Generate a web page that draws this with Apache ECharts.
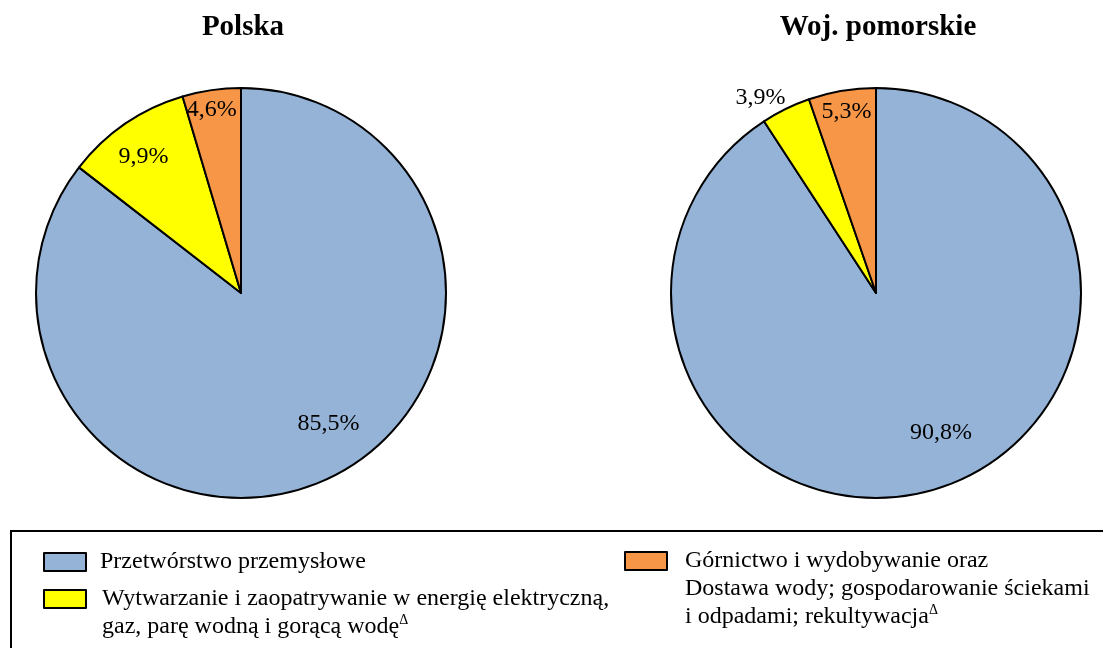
<!DOCTYPE html>
<html>
<head>
<meta charset="utf-8">
<script src="https://cdn.jsdelivr.net/npm/echarts@6/dist/echarts.min.js"></script>
<style>
  html, body { margin: 0; padding: 0; background: #fff; }
  #chart { width: 1103px; height: 648px; }
</style>
</head>
<body>
<div id="chart"></div>
<script>
// Sectors of the economy
const categories = [
  'Przetwórstwo przemysłowe',
  'Wytwarzanie i zaopatrywanie w energię elektryczną, gaz, parę wodną i gorącą wodę',
  'Górnictwo i wydobywanie oraz Dostawa wody; gospodarowanie ściekami i odpadami; rekultywacja'
];
// Legend wording, split into printed lines ({sup|…} marks a superscript)
const legendLines = [
  ['Przetwórstwo przemysłowe'],
  ['Wytwarzanie i zaopatrywanie w energię elektryczną,', 'gaz, parę wodną i gorącą wodę{sup|Δ}'],
  ['Górnictwo i wydobywanie oraz', 'Dostawa wody; gospodarowanie ściekami', 'i odpadami; rekultywacja{sup|Δ}']
];
const regionTitles = ['Polska', 'Woj. pomorskie'];
// Shares in percent
const polskaValues = [85.5, 9.9, 4.6];
const pomorskieValues = [90.8, 3.9, 5.3];

const sliceColors = ['#95B3D7', '#FFFF00', '#F79646'];
const FONT = 'Liberation Serif';
const LINE_H = 28;

// Label nudges (px) from the default inside position, per slice
const labelNudge = [
  [[41, 36], [-38, -49], [-14, -79]],
  [[35, 39], [-69, -101], [-12, -77]]
];

const pieCenters = [[241, 293], [876, 293]];
const PIE_R = 205;

function pct(v) {
  return v.toFixed(1).replace('.', ',') + '%';
}

function pieSeries(idx, values) {
  return {
    type: 'pie',
    name: regionTitles[idx],
    center: pieCenters[idx],
    radius: PIE_R,
    startAngle: 90,
    clockwise: true,
    silent: true,
    avoidLabelOverlap: false,
    data: categories.map((name, i) => ({
      name: name,
      value: values[i],
      itemStyle: { color: sliceColors[i] }
    })),
    itemStyle: { borderColor: '#000', borderWidth: 2 },
    label: {
      show: true,
      position: 'inside',
      formatter: p => pct(p.value),
      color: '#000',
      fontFamily: FONT,
      fontSize: 24
    },
    labelLine: { show: false },
    labelLayout: p => ({
      dx: labelNudge[idx][p.dataIndex][0],
      dy: labelNudge[idx][p.dataIndex][1]
    }),
    emphasis: { disabled: true }
  };
}

function legendItem(i, left, top, padLeft) {
  const n = legendLines[i].length;
  return {
    data: [categories[i]],
    orient: 'vertical',
    left: left,
    top: top,
    padding: 0,
    icon: 'rect',
    itemWidth: 42,
    itemHeight: 18,
    selectedMode: false,
    itemStyle: { borderColor: '#000', borderWidth: 2 },
    formatter: () => legendLines[i].join('\n'),
    textStyle: {
      fontFamily: FONT,
      fontSize: 24,
      lineHeight: LINE_H,
      color: '#000',
      padding: [(n - 1) * LINE_H, 0, 0, padLeft],
      rich: {
        sup: { fontFamily: FONT, fontSize: 14, lineHeight: 10, verticalAlign: 'top', color: '#000' }
      }
    }
  };
}

const chart = echarts.init(document.getElementById('chart'), null, { renderer: 'canvas' });
chart.setOption({
  animation: false,
  backgroundColor: '#fff',
  title: regionTitles.map((t, i) => ({
    text: t,
    left: pieCenters[i][0] + 2,
    top: 13,
    padding: 0,
    textAlign: 'center',
    textStyle: { fontFamily: FONT, fontWeight: 'bold', fontSize: 29, color: '#000' }
  })),
  legend: [
    legendItem(0, 43, 548, 9),
    legendItem(1, 43, 557, 11),
    legendItem(2, 624, 491, 13)
  ],
  graphic: [{
    type: 'rect',
    silent: true,
    shape: { x: 11, y: 531, width: 1200, height: 200 },
    style: { fill: 'none', stroke: '#000', lineWidth: 2 }
  }],
  series: [
    pieSeries(0, polskaValues),
    pieSeries(1, pomorskieValues)
  ]
});
</script>
</body>
</html>
